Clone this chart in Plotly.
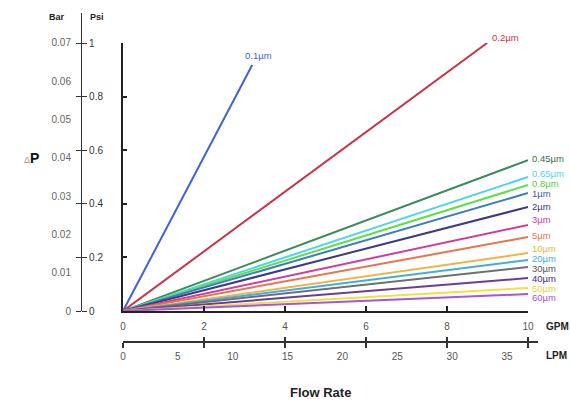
import plotly.graph_objects as go

# ---------------- data ----------------
pore_labels = ["0.1µm", "0.2µm", "0.45µm", "0.65µm", "0.8µm", "1µm", "2µm", "3µm",
               "5µm", "10µm", "20µm", "30µm", "40µm", "50µm", "60µm"]
end_flow_gpm = [3.19, 8.99, 10, 10, 10, 10, 10, 10, 10, 10, 10, 10, 10, 10, 10]
end_dp_psi = [0.918, 1.0, 0.563, 0.500, 0.470, 0.440, 0.388, 0.321,
              0.276, 0.216, 0.190, 0.164, 0.123, 0.086, 0.063]

gpm_ticks = [0, 2, 4, 6, 8, 10]
lpm_ticks = [0, 5, 10, 15, 20, 25, 30, 35]
psi_ticks = [0, 0.2, 0.4, 0.6, 0.8, 1.0]
psi_tick_text = ["0", "0.2", "0.4", "0.6", "0.8", "1"]
bar_ticks = [0, 0.01, 0.02, 0.03, 0.04, 0.05, 0.06, 0.07]
bar_tick_text = ["0", "0.01", "0.02", "0.03", "0.04", "0.05", "0.06", "0.07"]
BAR_TO_PSI_AS_DRAWN = 14.3

# ---------------- style ----------------
line_colors = ["#3f62d8", "#c93348", "#3b8c5c", "#4fd6e6", "#5edf45", "#3d7cc9",
               "#3c3a86", "#d33c9f", "#e8744c", "#f0b445", "#3facea", "#6f6f6f",
               "#6b3c9a", "#efe23f", "#a456e0"]
label_colors = ["#3f62d8", "#c93348", "#3b6e50", "#4fd6e6", "#4fcf35", "#3d5ca9",
                "#3c3a86", "#d33c9f", "#e8744c", "#f0b445", "#3facea", "#555555",
                "#4b2c7a", "#e8d830", "#a456e0"]
label_xanchor = ["center", "left"] + ["left"] * 13
label_xshift = [6, 3] + [2] * 13
label_yshift = [9, 6, 2, 4, 2, 0, 1, 5, 2, 5, 2, -1, 0, -1, -3]

FONT = "Liberation Sans, Arial, sans-serif"
W, H = 570, 400


def px_x(p):
    return p / W


def px_y(p):
    return (H - p) / H


main_xdom = [px_x(123), px_x(528)]
main_ydom = [px_y(311), px_y(43)]
psi_px = (311 - 43) / 1.0
side_ydom = [px_y(311), px_y(13)]
side_yrange = [0, (311 - 13) / psi_px]
lpm_xdom = [px_x(123), px_x(538)]
gpm_px = (528 - 123) / 10.0
lpm_px = (507 - 123) / 35.0

fig = go.Figure()

# dummy traces so the extra axes get drawn (added first, below the lines)
for xa, ya in [("x2", "y"), ("x3", "y"), ("x4", "y"), ("x", "y2"), ("x", "y3"), ("x", "y4")]:
    fig.add_trace(go.Scatter(x=[None], y=[None], xaxis=xa, yaxis=ya,
                             mode="markers", showlegend=False, hoverinfo="skip"))

for lab, xf, yp, c in zip(pore_labels, end_flow_gpm, end_dp_psi, line_colors):
    fig.add_trace(go.Scatter(x=[0, xf], y=[0, yp], mode="lines",
                             line=dict(color=c, width=2), name=lab,
                             showlegend=False, hoverinfo="skip", cliponaxis=False))

for i, (lab, xf, yp) in enumerate(zip(pore_labels, end_flow_gpm, end_dp_psi)):
    fig.add_annotation(x=xf, y=yp, xref="x", yref="y", text=lab, showarrow=False,
                       xanchor=label_xanchor[i], yanchor="middle",
                       xshift=label_xshift[i], yshift=label_yshift[i],
                       font=dict(family=FONT, size=9.5, color=label_colors[i]))

axis_common = dict(showgrid=False, zeroline=False, fixedrange=True, automargin=False)

fig.update_layout(
    width=W, height=H,
    margin=dict(l=0, r=0, t=0, b=0, autoexpand=False),
    paper_bgcolor="white", plot_bgcolor="rgba(0,0,0,0)",
    showlegend=False,
    xaxis=dict(domain=main_xdom, range=[0, 10], anchor="y",
               tickmode="array", tickvals=gpm_ticks,
               ticks="inside", ticklen=5, tickwidth=1.5, tickcolor="#222",
               showline=True, linecolor="#222", linewidth=2,
               tickfont=dict(family=FONT, size=10, color="#555"),
               ticklabelstandoff=5, **axis_common),
    yaxis=dict(domain=main_ydom, range=[0, 1], anchor="x",
               tickmode="array", tickvals=psi_ticks,
               ticks="inside", ticklen=4, tickwidth=1.5, tickcolor="#222",
               showline=True, linecolor="#222", linewidth=2,
               showticklabels=False, **axis_common),
    # LPM axis (labels)
    xaxis2=dict(domain=lpm_xdom, range=[0, (538 - 123) / lpm_px], anchor="free",
                position=px_y(342), tickmode="array", tickvals=lpm_ticks,
                ticks="", showline=True, linecolor="#333", linewidth=1.5,
                tickfont=dict(family=FONT, size=10, color="#555"),
                ticklabelstandoff=5, **axis_common),
    # ticks crossing LPM axis at GPM positions
    xaxis3=dict(domain=lpm_xdom, range=[0, (538 - 123) / gpm_px], anchor="free",
                position=px_y(342), tickmode="array", tickvals=gpm_ticks,
                ticks="outside", ticklen=5, tickwidth=1.5, tickcolor="#333",
                showline=False, showticklabels=False, **axis_common),
    xaxis4=dict(domain=lpm_xdom, range=[0, (538 - 123) / gpm_px], anchor="free",
                position=px_y(342), tickmode="array", tickvals=gpm_ticks,
                ticks="inside", ticklen=5, tickwidth=1.5, tickcolor="#333",
                showline=False, showticklabels=False, **axis_common),
    # Psi axis (right side labels)
    yaxis2=dict(domain=side_ydom, range=side_yrange, anchor="free",
                position=px_x(81), side="right",
                tickmode="array", tickvals=psi_ticks, ticktext=psi_tick_text,
                ticks="outside", ticklen=5, tickwidth=1.2, tickcolor="#333",
                showline=True, linecolor="#333", linewidth=1.2,
                tickfont=dict(family=FONT, size=10, color="#333"),
                ticklabelstandoff=0, **axis_common),
    yaxis3=dict(domain=side_ydom, range=side_yrange, anchor="free",
                position=px_x(81), side="left",
                tickmode="array", tickvals=psi_ticks,
                ticks="outside", ticklen=5, tickwidth=1.2, tickcolor="#333",
                showline=False, showticklabels=False, **axis_common),
    # Bar axis (left side labels, no ticks)
    yaxis4=dict(domain=side_ydom, range=side_yrange, anchor="free",
                position=px_x(81), side="left",
                tickmode="array",
                tickvals=[b * BAR_TO_PSI_AS_DRAWN for b in bar_ticks],
                ticktext=bar_tick_text, ticks="",
                showline=False,
                tickfont=dict(family=FONT, size=10, color="#666"),
                ticklabelstandoff=10, **axis_common),
)

# axis titles / headers
def paper_text(xp, yp, text, size, color="#222", xanchor="center"):
    fig.add_annotation(x=px_x(xp), y=px_y(yp), xref="paper", yref="paper", text=text,
                       showarrow=False, xanchor=xanchor, yanchor="middle",
                       font=dict(family=FONT, size=size, color=color))


paper_text(57, 17, "<b>Bar</b>", 9)
paper_text(97, 17, "<b>Psi</b>", 9)
paper_text(31, 158, "<span style='font-size:9px;color:#999'>Δ</span><b>P</b>", 14, "#111")
paper_text(544, 326, "<b>GPM</b>", 10, xanchor="left")
paper_text(544, 355, "<b>LPM</b>", 10, xanchor="left")
paper_text(320, 392, "<b>Flow Rate</b>", 13)

fig.write_html("out.html", config={"displayModeBar": False},
               post_script="document.body.style.margin='0';document.body.style.padding='0';")
